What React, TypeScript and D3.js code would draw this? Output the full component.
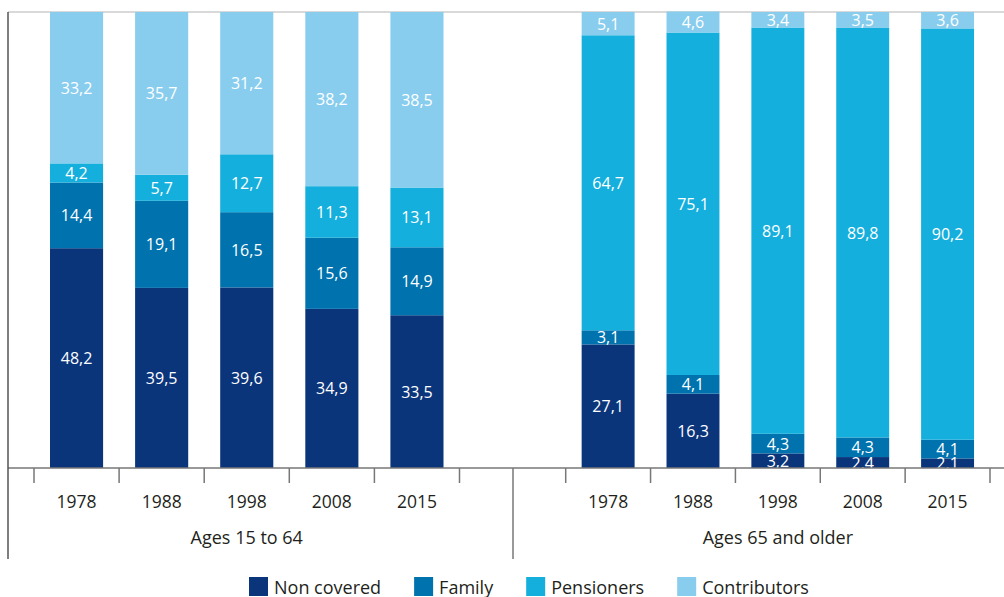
import { scaleBand, scaleLinear, scaleOrdinal, stack } from 'd3'

const years = ['1978', '1988', '1998', '2008', '2015']
const groups = ['Ages 15 to 64', 'Ages 65 and older']
const seriesKeys = ['Non covered', 'Family', 'Pensioners', 'Contributors']
const seriesColors = ['#0b357b', '#0072ae', '#14afdd', '#88cdee']

const nonCovered = [
  [48.2, 39.5, 39.6, 34.9, 33.5],
  [27.1, 16.3, 3.2, 2.4, 2.1],
]
const family = [
  [14.4, 19.1, 16.5, 15.6, 14.9],
  [3.1, 4.1, 4.3, 4.3, 4.1],
]
const pensioners = [
  [4.2, 5.7, 12.7, 11.3, 13.1],
  [64.7, 75.1, 89.1, 89.8, 90.2],
]
const contributors = [
  [33.2, 35.7, 31.2, 38.2, 38.5],
  [5.1, 4.6, 3.4, 3.5, 3.6],
]

type Row = { year: string } & Record<string, number | string>

function buildRows(groupIndex: number): Row[] {
  return years.map((year, i) => ({
    year,
    'Non covered': nonCovered[groupIndex][i],
    Family: family[groupIndex][i],
    Pensioners: pensioners[groupIndex][i],
    Contributors: contributors[groupIndex][i],
  }))
}

const fmt = (v: number) => v.toFixed(1).replace('.', ',')
const font = '"Open Sans", sans-serif'

function measure(text: string, size: number) {
  const ctx = document.createElement('canvas').getContext('2d')
  if (!ctx) return text.length * size * 0.55
  ctx.font = `${size}px ${font}`
  return ctx.measureText(text).width
}

export default function App() {
  const width = 1004
  const height = 597
  const left = 8
  const baseY = 468
  const topY = 12
  const separatorX = 513
  const groupRanges: [number, number][] = [
    [34, 459.5],
    [565.7, 990],
  ]

  const y = scaleLinear().domain([0, 100]).range([baseY, topY])
  const color = scaleOrdinal<string, string>().domain(seriesKeys).range(seriesColors)
  const stacker = stack<Row>().keys(seriesKeys).value((d, key) => d[key] as number)

  // legend laid out left to right from measured label widths
  const legendSize = 18
  const legendGap = 33
  let cursor = 249
  const legendItems = seriesKeys.map((key) => {
    const x = cursor
    cursor += 19 + 6 + measure(key, legendSize) + legendGap
    return { key, x }
  })

  return (
    <svg
      width={width}
      height={height}
      style={{ position: 'absolute', left: 0, top: 0, fontFamily: font }}
    >
      <line x1={left} x2={width} y1={topY} y2={topY} stroke="#d9d9d9" strokeWidth={2} />

      {groups.map((group, gi) => {
        const x = scaleBand<string>()
          .domain(years)
          .range(groupRanges[gi])
          .paddingInner(0.376)
          .paddingOuter(0.188)
        const layers = stacker(buildRows(gi))
        const step = x.step()
        const edges = [...years.map((yr) => (x(yr) ?? 0) - (step - x.bandwidth()) / 2), groupRanges[gi][1]]
        return (
          <g key={group}>
            {layers.map((layer) => (
              <g key={layer.key} fill={color(layer.key)}>
                {layer.map((d) => (
                  <rect
                    key={d.data.year}
                    x={x(d.data.year)}
                    y={y(d[1])}
                    width={x.bandwidth()}
                    height={y(d[0]) - y(d[1])}
                  />
                ))}
              </g>
            ))}
            {layers.map((layer) =>
              layer.map((d) => (
                <text
                  key={`${layer.key}-${d.data.year}`}
                  x={(x(d.data.year) ?? 0) + x.bandwidth() / 2}
                  y={(y(d[0]) + y(d[1])) / 2}
                  textAnchor="middle"
                  dominantBaseline="central"
                  fill="#ffffff"
                  fontSize={16}
                >
                  {fmt(d[1] - d[0])}
                </text>
              )),
            )}
            {edges.map((ex, i) => (
              <line key={i} x1={ex} x2={ex} y1={baseY} y2={baseY + 15} stroke="#777" strokeWidth={1.5} />
            ))}
            {years.map((yr) => (
              <text
                key={yr}
                x={(x(yr) ?? 0) + x.bandwidth() / 2}
                y={501}
                textAnchor="middle"
                dominantBaseline="central"
                fill="#231f20"
                fontSize={17.5}
              >
                {yr}
              </text>
            ))}
            <text
              x={(groupRanges[gi][0] + groupRanges[gi][1]) / 2}
              y={537}
              textAnchor="middle"
              dominantBaseline="central"
              fill="#231f20"
              fontSize={18}
            >
              {group}
            </text>
          </g>
        )
      })}

      <line x1={left} x2={width} y1={baseY} y2={baseY} stroke="#777" strokeWidth={1.5} />
      <line x1={left} x2={left} y1={topY} y2={559} stroke="#555" strokeWidth={1.5} />
      <line x1={separatorX} x2={separatorX} y1={baseY} y2={559} stroke="#777" strokeWidth={1.5} />

      {legendItems.map((item) => (
        <g key={item.key}>
          <rect x={item.x} y={577} width={19} height={19} fill={color(item.key)} />
          <text x={item.x + 25} y={587} dominantBaseline="central" fill="#231f20" fontSize={legendSize}>
            {item.key}
          </text>
        </g>
      ))}
    </svg>
  )
}
